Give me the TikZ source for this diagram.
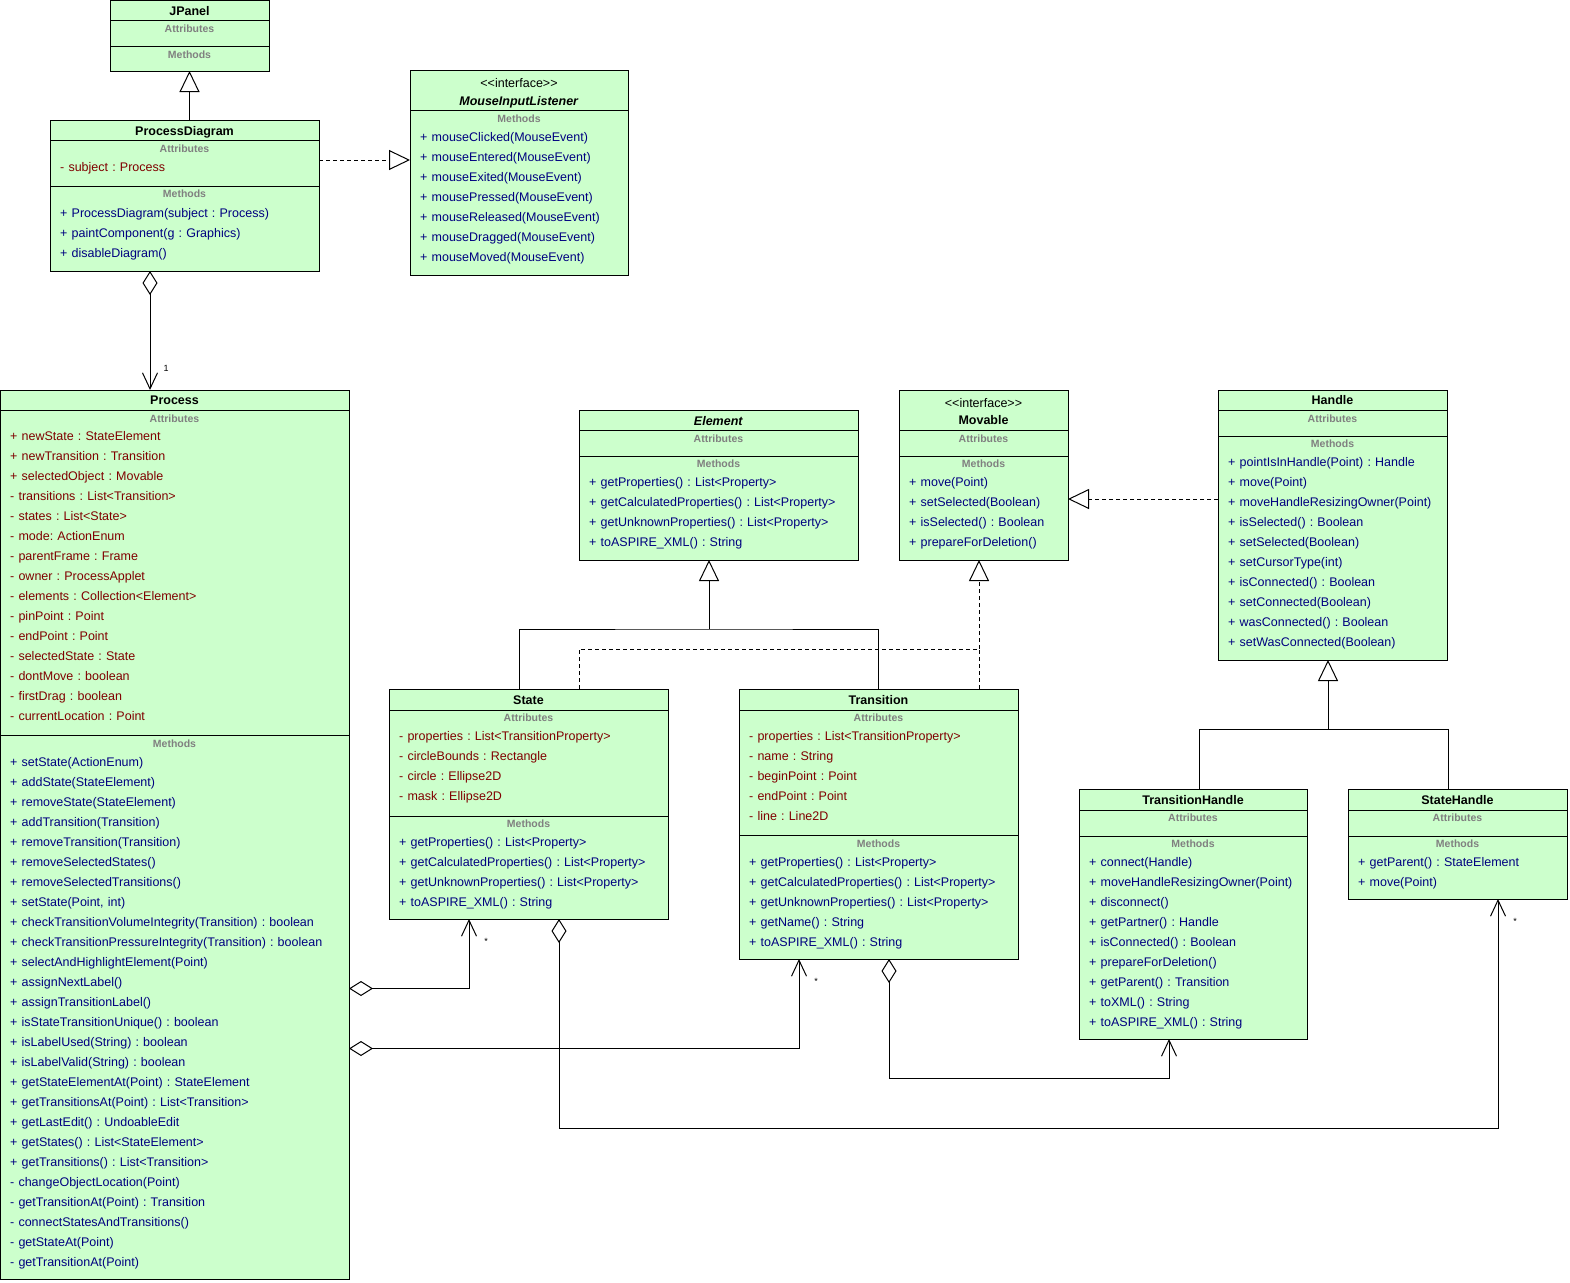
\documentclass[tikz,border=0pt]{standalone}
\usepackage{fontspec}
\setmainfont{Liberation Sans}
\usepackage{tikz}
\usetikzlibrary{arrows.meta}
\frenchspacing
\definecolor{umlfill}{RGB}{204,255,204}
\definecolor{umlred}{RGB}{128,0,0}
\definecolor{umlblue}{RGB}{0,0,128}
\definecolor{umlgray}{RGB}{128,128,128}
\newcommand{\classline}[2]{\draw[line width=1pt] ([yshift=-#2pt]#1.north west) -- ([yshift=-#2pt]#1.north east);}
\newcommand{\stereo}{<\kern0pt<interface>\kern0pt>}
\tikzset{
  umlbox/.style = {draw, fill=umlfill, line width=1pt, anchor=north west, inner sep=0pt, outer sep=0pt},
  cname/.style = {anchor=base, font=\bfseries\fontsize{12.5}{15}\selectfont},
  ster/.style = {anchor=base, font=\fontsize{12.5}{15}\selectfont},
  part/.style = {anchor=base, text=umlgray, font=\bfseries\fontsize{10.5}{12}\selectfont},
  attrs/.style = {anchor=base west, inner sep=0pt, text width=340pt, align=left, text=umlred, font=\fontsize{12.5}{20}\selectfont},
  meths/.style = {attrs, text=umlblue},
  dashline/.style = {line width=1pt, dash pattern=on 4pt off 3pt},
  inherit/.style = {line width=1pt, -{Triangle[open, length=21pt, width=20pt]}},
  realize/.style = {dashline, -{Triangle[open, length=21pt, width=20pt]}},
  aggr/.style = {line width=1pt, {Diamond[open, length=24pt, width=15pt]}-{Straight Barb[length=16pt, width=15pt]}},
  mult/.style = {inner sep=0pt, font=\fontsize{9}{10}\selectfont},
}
\begin{document}
\begin{tikzpicture}[x = 1pt, y = -1pt]
\useasboundingbox (0,0) rectangle (1570,1282);

% JPanel
\node[umlbox, minimum width=159pt, minimum height=71pt] (jpanel) at (110,0) {};
\classline{jpanel}{20} \classline{jpanel}{46}
\node[cname] (jpanelT) at (jpanel.north |- 0,15) {JPanel};
\node[part] (jpanelA) at (jpanel.north |- 0,32) {Attributes};
\node[part] (jpanelM) at (jpanel.north |- 0,58) {Methods};

% ProcessDiagram
\node[umlbox, minimum width=269pt, minimum height=151pt] (pdiag) at (50,120) {};
\classline{pdiag}{20} \classline{pdiag}{66}
\node[cname] (pdiagT) at (pdiag.north |- 0,135) {ProcessDiagram};
\node[part] (pdiagA) at (pdiag.north |- 0,152) {Attributes};
\node[attrs] (pdiagAt) at (60,171) {- subject : Process};
\node[part] (pdiagM) at (pdiag.north |- 0,197) {Methods};
\node[meths] (pdiagMt) at (60,217) {+ ProcessDiagram(subject : Process)\\+ paintComponent(g : Graphics)\\+ disableDiagram()};

% MouseInputListener
\node[umlbox, minimum width=218pt, minimum height=205pt] (mil) at (410,70) {};
\classline{mil}{40}
\node[ster] (milS) at (mil.north |- 0,87) {\stereo};
\node[cname] (milT) at (mil.north |- 0,105) {\textit{MouseInputListener}};
\node[part] (milM) at (mil.north |- 0,122) {Methods};
\node[meths] (milMt) at (420,141) {+ mouseClicked(MouseEvent)\\+ mouseEntered(MouseEvent)\\+ mouseExited(MouseEvent)\\+ mousePressed(MouseEvent)\\+ mouseReleased(MouseEvent)\\+ mouseDragged(MouseEvent)\\+ mouseMoved(MouseEvent)};

% Process
\node[umlbox, minimum width=349pt, minimum height=889pt] (process) at (0,390) {};
\classline{process}{20} \classline{process}{345}
\node[cname] (processT) at (process.north |- 0,404) {Process};
\node[part] (processA) at (process.north |- 0,422) {Attributes};
\node[attrs] (processAt) at (10,440) {+ newState : StateElement\\+ newTransition : Transition\\+ selectedObject : Movable\\- transitions : List<Transition>\\- states : List<State>\\- mode: ActionEnum\\- parentFrame : Frame\\- owner : ProcessApplet\\- elements : Collection<Element>\\- pinPoint : Point\\- endPoint : Point\\- selectedState : State\\- dontMove : boolean\\- firstDrag : boolean\\- currentLocation : Point};
\node[part] (processM) at (process.north |- 0,747) {Methods};
\node[meths] (processMt) at (10,766) {+ setState(ActionEnum)\\+ addState(StateElement)\\+ removeState(StateElement)\\+ addTransition(Transition)\\+ removeTransition(Transition)\\+ removeSelectedStates()\\+ removeSelectedTransitions()\\+ setState(Point, int)\\+ checkTransitionVolumeIntegrity(Transition) : boolean\\+ checkTransitionPressureIntegrity(Transition) : boolean\\+ selectAndHighlightElement(Point)\\+ assignNextLabel()\\+ assignTransitionLabel()\\+ isStateTransitionUnique() : boolean\\+ isLabelUsed(String) : boolean\\+ isLabelValid(String) : boolean\\+ getStateElementAt(Point) : StateElement\\+ getTransitionsAt(Point) : List<Transition>\\+ getLastEdit() : UndoableEdit\\+ getStates() : List<StateElement>\\+ getTransitions() : List<Transition>\\- changeObjectLocation(Point)\\- getTransitionAt(Point) : Transition\\- connectStatesAndTransitions()\\- getStateAt(Point)\\- getTransitionAt(Point)};

% Element
\node[umlbox, minimum width=279pt, minimum height=150pt] (element) at (579,410) {};
\classline{element}{20} \classline{element}{46}
\node[cname] (elementT) at (element.north |- 0,425) {\textit{Element}};
\node[part] (elementA) at (element.north |- 0,442) {Attributes};
\node[part] (elementM) at (element.north |- 0,467) {Methods};
\node[meths] (elementMt) at (589,486) {+ getProperties() : List<Property>\\+ getCalculatedProperties() : List<Property>\\+ getUnknownProperties() : List<Property>\\+ toASPIRE\_XML() : String};

% Movable
\node[umlbox, minimum width=169pt, minimum height=170pt] (movable) at (899,390) {};
\classline{movable}{40} \classline{movable}{66}
\node[ster] (movableS) at (movable.north |- 0,407) {\stereo};
\node[cname] (movableT) at (movable.north |- 0,424) {Movable};
\node[part] (movableA) at (movable.north |- 0,442) {Attributes};
\node[part] (movableM) at (movable.north |- 0,467) {Methods};
\node[meths] (movableMt) at (909,486) {+ move(Point)\\+ setSelected(Boolean)\\+ isSelected() : Boolean\\+ prepareForDeletion()};

% Handle
\node[umlbox, minimum width=229pt, minimum height=270pt] (handle) at (1218,390) {};
\classline{handle}{20} \classline{handle}{46}
\node[cname] (handleT) at (handle.north |- 0,404) {Handle};
\node[part] (handleA) at (handle.north |- 0,422) {Attributes};
\node[part] (handleM) at (handle.north |- 0,447) {Methods};
\node[meths] (handleMt) at (1228,466) {+ pointIsInHandle(Point) : Handle\\+ move(Point)\\+ moveHandleResizingOwner(Point)\\+ isSelected() : Boolean\\+ setSelected(Boolean)\\+ setCursorType(int)\\+ isConnected() : Boolean\\+ setConnected(Boolean)\\+ wasConnected() : Boolean\\+ setWasConnected(Boolean)};

% State
\node[umlbox, minimum width=279pt, minimum height=230pt] (state) at (389,689) {};
\classline{state}{21} \classline{state}{127}
\node[cname] (stateT) at (state.north |- 0,704) {State};
\node[part] (stateA) at (state.north |- 0,721) {Attributes};
\node[attrs] (stateAt) at (399,740) {- properties : List<TransitionProperty>\\- circleBounds : Rectangle\\- circle : Ellipse2D\\- mask : Ellipse2D};
\node[part] (stateM) at (state.north |- 0,827) {Methods};
\node[meths] (stateMt) at (399,846) {+ getProperties() : List<Property>\\+ getCalculatedProperties() : List<Property>\\+ getUnknownProperties() : List<Property>\\+ toASPIRE\_XML() : String};

% Transition
\node[umlbox, minimum width=279pt, minimum height=270pt] (transition) at (739,689) {};
\classline{transition}{21} \classline{transition}{146}
\node[cname] (transitionT) at (transition.north |- 0,704) {Transition};
\node[part] (transitionA) at (transition.north |- 0,721) {Attributes};
\node[attrs] (transitionAt) at (749,740) {- properties : List<TransitionProperty>\\- name : String\\- beginPoint : Point\\- endPoint : Point\\- line : Line2D};
\node[part] (transitionM) at (transition.north |- 0,847) {Methods};
\node[meths] (transitionMt) at (749,866) {+ getProperties() : List<Property>\\+ getCalculatedProperties() : List<Property>\\+ getUnknownProperties() : List<Property>\\+ getName() : String\\+ toASPIRE\_XML() : String};

% TransitionHandle
\node[umlbox, minimum width=228pt, minimum height=250pt] (thandle) at (1079,789) {};
\classline{thandle}{21} \classline{thandle}{47}
\node[cname] (thandleT) at (thandle.north |- 0,804) {TransitionHandle};
\node[part] (thandleA) at (thandle.north |- 0,821) {Attributes};
\node[part] (thandleM) at (thandle.north |- 0,847) {Methods};
\node[meths] (thandleMt) at (1089,866) {+ connect(Handle)\\+ moveHandleResizingOwner(Point)\\+ disconnect()\\+ getPartner() : Handle\\+ isConnected() : Boolean\\+ prepareForDeletion()\\+ getParent() : Transition\\+ toXML() : String\\+ toASPIRE\_XML() : String};

% StateHandle
\node[umlbox, minimum width=219pt, minimum height=110pt] (shandle) at (1348,789) {};
\classline{shandle}{21} \classline{shandle}{47}
\node[cname] (shandleT) at (shandle.north |- 0,804) {StateHandle};
\node[part] (shandleA) at (shandle.north |- 0,821) {Attributes};
\node[part] (shandleM) at (shandle.north |- 0,847) {Methods};
\node[meths] (shandleMt) at (1358,866) {+ getParent() : StateElement\\+ move(Point)};

% generalisation and realisation
\draw[inherit] (jpanel.south |- pdiag.north) -- (jpanel.south);
\coordinate (pdR) at ([yshift=35.5pt]pdiag.east);
\draw[realize] (pdR) -- (pdR -| mil.west);
\coordinate (elB) at ([xshift=130pt]element.south west);
\coordinate (elJ) at ([yshift=-69pt]elB);
\coordinate (stT) at ([xshift=130pt]state.north west);
\draw[line width=1pt] (stT) |- (elJ) -| (transition.north);
\draw[inherit] (elJ) -- (elB);
\coordinate (mvB) at ([xshift=80pt]movable.south west);
\coordinate (mvJ) at ([yshift=-89pt]mvB);
\coordinate (stT2) at ([xshift=190pt]state.north west);
\draw[dashline] (stT2) |- (mvJ) -- (mvJ |- transition.north);
\draw[realize] (mvJ) -- (mvB);
\coordinate (hdL) at ([yshift=26pt]handle.west);
\draw[realize] (hdL) -- (hdL -| movable.east);
\coordinate (hdB) at ([xshift=110pt]handle.south west);
\coordinate (hdJ) at ([yshift=-69pt]hdB);
\coordinate (thT) at ([xshift=120pt]thandle.north west);
\coordinate (shT) at ([xshift=100pt]shandle.north west);
\draw[line width=1pt] (thT) |- (hdJ) -| (shT);
\draw[inherit] (hdJ) -- (hdB);

% aggregations
\coordinate (pdA) at ([xshift=100pt]pdiag.south west);
\draw[aggr] (pdA) -- (pdA |- process.north);
\node[mult] (m1) at (166,368) {1};
\coordinate (prS) at ([yshift=-154pt]process.east);
\coordinate (stB) at ([xshift=80pt]state.south west);
\draw[aggr] (prS) -| (stB);
\node[mult] (m2) at (486,941) {*};
\coordinate (prT) at ([yshift=-214pt]process.east);
\coordinate (trB) at ([xshift=60pt]transition.south west);
\draw[aggr] (prT) -| (trB);
\node[mult] (m3) at (816,981) {*};
\coordinate (stD) at ([xshift=170pt]state.south west);
\coordinate (shB) at ([xshift=150pt]shandle.south west);
\draw[aggr] (stD) -- ++(0,209) -| (shB);
\node[mult] (m4) at (1515,921) {*};
\coordinate (trD) at ([xshift=150pt]transition.south west);
\coordinate (thB) at ([xshift=90pt]thandle.south west);
\draw[aggr] (trD) -- ++(0,119) -| (thB);
\end{tikzpicture}
\end{document}
